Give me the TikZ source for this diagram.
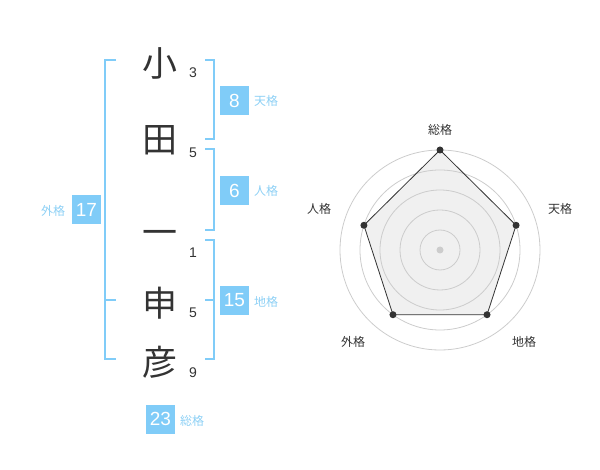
\documentclass[tikz,border=0pt]{standalone}
\usepackage{fontspec}
\usetikzlibrary{calc}
\setmainfont{Liberation Sans}
\newfontfamily\jpfont{Noto Sans CJK JP}
\definecolor{brk}{HTML}{80CCF8}
\definecolor{lbl}{HTML}{8DD0F5}
\definecolor{ink}{HTML}{333333}
\definecolor{ring}{HTML}{CCCCCC}
\definecolor{polyfill}{HTML}{F0F0F0}
\tikzset{
  kanji/.style={font=\jpfont\fontsize{35}{35}\selectfont, text=ink, inner sep=0pt},
  strokes/.style={font=\fontsize{14}{14}\selectfont, text=ink, inner sep=0pt},
  numbox/.style={fill=brk, minimum width=29pt, minimum height=29pt, inner sep=0pt, text=white, font=\fontsize{19}{19}\selectfont},
  kaku/.style={font=\jpfont\fontsize{12}{12}\selectfont, text=lbl, inner sep=0pt},
  bracket/.style={draw=brk, line width=2pt},
  radarlbl/.style={font=\jpfont\fontsize{12}{12}\selectfont, text=ink, inner sep=0pt},
  ringc/.style={draw=ring, line width=0.8pt},
  dot/.style={circle, fill=ink, minimum size=7pt, inner sep=0pt},
}
\begin{document}
\begin{tikzpicture}[x=1pt, y=-1pt]
\useasboundingbox (0,0) rectangle (600,470);
% kanji
\node[kanji] (k1) at (160,63) {小};
\node[kanji] (k2) at (160,140) {田};
\node[kanji] (k3) at (160,238) {一};
\node[kanji] (k4) at (160,303) {申};
\node[kanji] (k5) at (160,362) {彦};
% stroke counts
\node[strokes] (s1) at (193,73) {3};
\node[strokes] (s2) at (193,153) {5};
\node[strokes] (s3) at (193,253) {1};
\node[strokes] (s4) at (193,313) {5};
\node[strokes] (s5) at (193,373) {9};
% brackets
\coordinate (gl1) at (116,60); \coordinate (gl2) at (105,60);
\coordinate (gl3) at (105,359); \coordinate (gl4) at (116,359);
\coordinate (gm1) at (105,300); \coordinate (gm2) at (116,300);
\draw[bracket] (gl1) -- (gl2) -- (gl3) -- (gl4);
\draw[bracket] (gm1) -- (gm2);
\coordinate (t1) at (205,60); \coordinate (t2) at (214,60);
\coordinate (t3) at (214,139); \coordinate (t4) at (205,139);
\draw[bracket] (t1) -- (t2) -- (t3) -- (t4);
\coordinate (j1) at (205,149); \coordinate (j2) at (214,149);
\coordinate (j3) at (214,230); \coordinate (j4) at (205,230);
\draw[bracket] (j1) -- (j2) -- (j3) -- (j4);
\coordinate (c1) at (205,240); \coordinate (c2) at (214,240);
\coordinate (c3) at (214,359); \coordinate (c4) at (205,359);
\coordinate (cm1) at (205,300); \coordinate (cm2) at (214,300);
\draw[bracket] (c1) -- (c2) -- (c3) -- (c4);
\draw[bracket] (cm1) -- (cm2);
% number boxes and labels
\node[numbox] (b8) at (234.5,100.5) {8};
\node[kaku] (l8) at (266,101) {天格};
\node[numbox] (b6) at (234.5,190.5) {6};
\node[kaku] (l6) at (266,191) {人格};
\node[numbox] (b15) at (234.5,300.5) {15};
\node[kaku] (l15) at (266,302) {地格};
\node[numbox] (b17) at (86.5,210) {17};
\node[kaku] (l17) at (53,211) {外格};
\node[numbox] (b23) at (160.5,419) {23};
\node[kaku] (l23) at (192,421) {総格};
% radar chart
\coordinate (rc) at (440,250);
\coordinate (p1) at ($(rc)+(0,-100)$);
\coordinate (p2) at ($(rc)+({80*cos(18)},{-80*sin(18)})$);
\coordinate (p3) at ($(rc)+({80*cos(-54)},{-80*sin(-54)})$);
\coordinate (p4) at ($(rc)+({80*cos(-126)},{-80*sin(-126)})$);
\coordinate (p5) at ($(rc)+({80*cos(162)},{-80*sin(162)})$);
\fill[polyfill] (p1) -- (p2) -- (p3) -- (p4) -- (p5) -- cycle;
\foreach \r in {20,40,60,80,100} \draw[ringc] (rc) circle (\r);
\draw[ink, line width=0.8pt] (p1) -- (p2) -- (p3) -- (p4) -- (p5) -- cycle;
\node[circle, fill=ring, minimum size=7pt, inner sep=0pt] (ctr) at (rc) {};
\foreach \p in {p1,p2,p3,p4,p5} \node[dot] (d\p) at (\p) {};
\node[radarlbl] (r1) at (440,130) {総格};
\node[radarlbl] (r2) at (560,209) {天格};
\node[radarlbl] (r3) at (524,342) {地格};
\node[radarlbl] (r4) at (353,342) {外格};
\node[radarlbl] (r5) at (319,209) {人格};
\end{tikzpicture}
\end{document}
